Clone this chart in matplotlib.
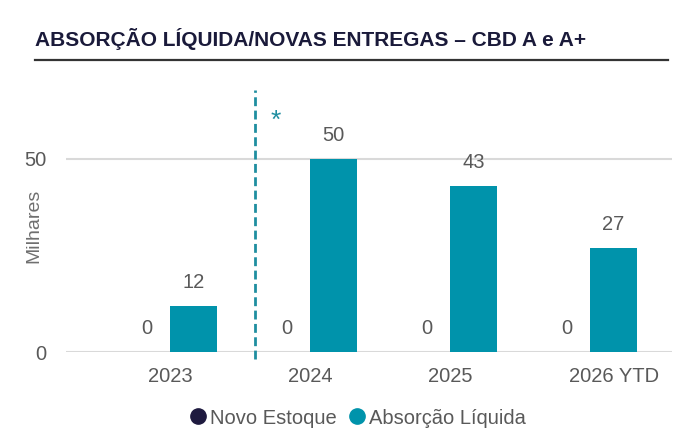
import matplotlib.pyplot as plt
from matplotlib.lines import Line2D
import matplotlib.transforms as mtransforms
import numpy as np

plt.rcParams['font.family'] = ['Liberation Sans', 'DejaVu Sans']

# data
categories = ["2023", "2024", "2025", "2026 YTD"]
novo_estoque = [0, 0, 0, 0]
absorcao = [12, 50, 43, 27]

teal = "#0093ab"
navy = "#1e1a3f"
gray = "#595959"

fig = plt.figure(figsize=(6.85, 4.38), dpi=100)
ax = fig.add_axes([66/685, 86/438, (672-66)/685, (352-89.5)/438])

x = np.arange(len(categories))
w = 0.336
b1 = ax.bar(x - w/2, novo_estoque, w, color=navy)
b2 = ax.bar(x + w/2, absorcao, w, color=teal)

for bars, vals in ((b1, novo_estoque), (b2, absorcao)):
    for r, v in zip(bars, vals):
        ax.annotate(str(v), (r.get_x() + r.get_width()/2, v),
                    xytext=(0, 10), textcoords="offset points",
                    ha="center", va="bottom", fontsize=14.5, color=gray)

ax.set_xlim(-0.743, 3.586)
ax.set_ylim(0, 68)
ax.set_yticks([0, 50])
ax.set_xticks(x)
ax.set_xticklabels(categories)
ax.tick_params(axis="both", length=0, labelsize=14.5, labelcolor=gray)
ax.tick_params(axis="y", pad=14)
ax.tick_params(axis="x", pad=11)
# last label sits a bit right of its group in the original
lbl = ax.get_xticklabels()[-1]
lbl.set_transform(lbl.get_transform() + mtransforms.ScaledTranslation(24/100, 0, fig.dpi_scale_trans))
for s in ax.spines.values():
    s.set_visible(False)
ax.grid(axis="y", color="#d9d9d9", linewidth=1.5)
ax.set_axisbelow(True)
ax.set_ylabel("Milhares", fontsize=14, color="#6f6f6f")
ax.yaxis.set_label_coords((42-66)/606, (352-226)/262.5)

# projection divider
ax.axvline(0.607, ymin=-0.025, ymax=1, color="#1f8ea0", linestyle=(0, (3.2, 1.6)),
           linewidth=2, clip_on=False)
ax.text(0.757, 60.0, "*", color="#1f8ea0", fontsize=19, ha="center", va="center")

# title + rule
fig.text(35/685, 1 - 46/438, "ABSORÇÃO LÍQUIDA/NOVAS ENTREGAS – CBD A e A+",
         fontsize=15, fontweight="bold", color="#1a1a3a", va="baseline", ha="left")
fig.add_artist(Line2D([35/685, 668/685], [1 - 60/438, 1 - 60/438],
                      color="#333333", linewidth=1.6))

handles = [Line2D([], [], marker="o", linestyle="none", markersize=11, color=navy),
           Line2D([], [], marker="o", linestyle="none", markersize=11, color=teal)]
leg = fig.legend(handles, ["Novo Estoque", "Absorção Líquida"], loc="center",
                 bbox_to_anchor=(357/685, 1 - 418/438), ncol=2, frameon=False,
                 fontsize=14.5, handletextpad=0.1, columnspacing=0.5, handlelength=1.0)
for t in leg.get_texts():
    t.set_color(gray)

fig.savefig("out.png", dpi=100)
